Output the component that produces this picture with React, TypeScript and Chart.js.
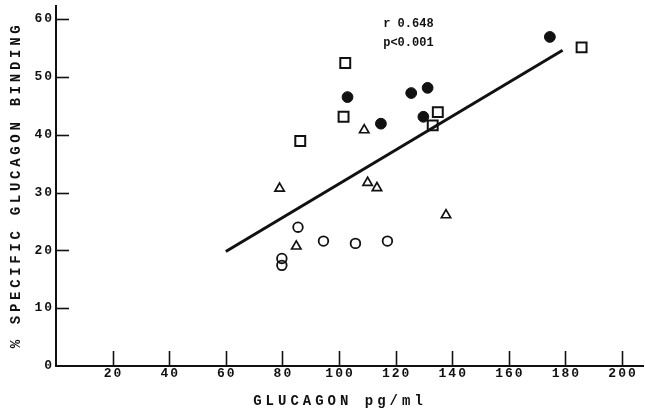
import React, { useEffect, useRef } from "react";
import { Chart, registerables } from "chart.js";

Chart.register(...registerables);

// ---- data ----
const X_TICKS = [20, 40, 60, 80, 100, 120, 140, 160, 180, 200];
const Y_TICKS = [0, 10, 20, 30, 40, 50, 60];

const openCircleX = [85.5, 94.5, 105.8, 117.1, 79.8, 79.8];
const openCircleY = [24.0, 21.6, 21.2, 21.6, 18.6, 17.4];

const filledCircleX = [103.0, 125.5, 131.3, 114.8, 129.8, 174.5];
const filledCircleY = [46.5, 47.2, 48.1, 41.9, 43.1, 56.9];

const squareX = [102.2, 101.6, 134.9, 133.1, 86.3, 185.7];
const squareY = [52.4, 43.1, 43.9, 41.6, 38.9, 55.1];

const triangleX = [108.9, 79.0, 110.1, 113.4, 137.8, 84.9];
const triangleY = [40.8, 30.7, 31.7, 30.8, 26.1, 20.7];

const fitX = [60, 179];
const fitY = [19.8, 54.6];

const X_TITLE = "GLUCAGON pg/ml";
const Y_TITLE = "% SPECIFIC GLUCAGON BINDING";
const STAT_LINES = ["r 0.648", "p<0.001"];

const pts = (xs: number[], ys: number[]) => xs.map((x, i) => ({ x, y: ys[i] }));

const FONT = "'Liberation Mono', 'DejaVu Sans Mono', monospace";

const decorPlugin = {
  id: "decor",
  afterDraw(chart: any) {
    const { ctx, chartArea, scales } = chart;
    const xs = scales.x;
    const ys = scales.y;
    ctx.save();
    ctx.strokeStyle = "#111";
    ctx.fillStyle = "#111";
    ctx.lineWidth = 1.6;
    // inward tick marks + labels on x axis
    ctx.font = `bold 13px ${FONT}`;
    ctx.letterSpacing = "2px";
    ctx.textAlign = "center";
    ctx.textBaseline = "middle";
    xs.ticks.forEach((t: any) => {
      const p = xs.getPixelForValue(t.value);
      const px = Math.round(p) + 0.5;
      ctx.beginPath();
      ctx.moveTo(px, chartArea.bottom);
      ctx.lineTo(px, chartArea.bottom - 15);
      ctx.stroke();
      ctx.fillText(String(t.value), p + 1, chartArea.bottom + 7.5);
    });
    // inward tick marks + labels on y axis
    ctx.textAlign = "right";
    ys.ticks.forEach((t: any) => {
      const p = ys.getPixelForValue(t.value);
      if (t.value !== 0) {
        const py = Math.round(p) + 0.5;
        ctx.beginPath();
        ctx.moveTo(chartArea.left, py);
        ctx.lineTo(chartArea.left + 13, py);
        ctx.stroke();
      }
      ctx.fillText(String(t.value), chartArea.left - 2, p);
    });
    // axis titles
    ctx.font = `bold 14px ${FONT}`;
    ctx.letterSpacing = "4px";
    ctx.textAlign = "center";
    ctx.fillText(X_TITLE, 340, 401);
    ctx.save();
    ctx.translate(16, 185);
    ctx.rotate(-Math.PI / 2);
    ctx.letterSpacing = "3.7px";
    ctx.fillText(Y_TITLE, 0, 0);
    ctx.restore();
    // statistics
    ctx.font = `bold 12px ${FONT}`;
    ctx.letterSpacing = "0px";
    ctx.textAlign = "left";
    ctx.fillText(STAT_LINES[0], xs.getPixelForValue(115.6), ys.getPixelForValue(59.1));
    ctx.fillText(STAT_LINES[1], xs.getPixelForValue(115.6), ys.getPixelForValue(55.8));
    ctx.restore();
  },
};

export default function App() {
  const ref = useRef<HTMLCanvasElement | null>(null);
  useEffect(() => {
    if (!ref.current) return;
    const ink = "#111";
    const chart = new Chart(ref.current, {
      type: "scatter",
      data: {
        datasets: [
          {
            type: "line",
            data: pts(fitX, fitY),
            borderColor: ink,
            borderWidth: 3,
            pointRadius: 0,
            showLine: true,
            fill: false,
          } as any,
          {
            data: pts(openCircleX, openCircleY),
            pointStyle: "circle",
            pointRadius: 4.8,
            borderColor: ink,
            borderWidth: 1.8,
            backgroundColor: "rgba(0,0,0,0)",
          },
          {
            data: pts(filledCircleX, filledCircleY),
            pointStyle: "circle",
            pointRadius: 5.4,
            borderColor: ink,
            borderWidth: 1,
            backgroundColor: ink,
          },
          {
            data: pts(squareX, squareY),
            pointStyle: "rect",
            pointRadius: 7,
            borderColor: ink,
            borderWidth: 2,
            backgroundColor: "#fff",
          },
          {
            data: pts(triangleX, triangleY),
            pointStyle: "triangle",
            pointRadius: 5.4,
            borderColor: ink,
            borderWidth: 1.7,
            backgroundColor: "#fff",
          },
        ],
      },
      options: {
        animation: false,
        responsive: false,
        devicePixelRatio: 1,
        layout: { autoPadding: false, padding: { top: 6, right: 2, left: 0, bottom: 0 } },
        plugins: { legend: { display: false }, tooltip: { enabled: false } },
        scales: {
          x: {
            type: "linear",
            min: 0,
            max: 207.4,
            afterBuildTicks: (s: any) => {
              s.ticks = X_TICKS.map((v) => ({ value: v }));
            },
            afterFit: (s: any) => {
              s.height = 48;
            },
            grid: { display: false, drawTicks: false },
            border: { display: true, color: ink, width: 2 },
            ticks: { display: false },
          },
          y: {
            type: "linear",
            min: 0,
            max: 62.25,
            afterBuildTicks: (s: any) => {
              s.ticks = Y_TICKS.map((v) => ({ value: v }));
            },
            afterFit: (s: any) => {
              s.width = 56;
            },
            grid: { display: false, drawTicks: false },
            border: { display: true, color: ink, width: 2 },
            ticks: { display: false },
          },
        },
      },
      plugins: [decorPlugin],
    });
    return () => chart.destroy();
  }, []);
  return (
    <div style={{ position: "fixed", left: 0, top: 0, width: 645, height: 414, background: "#fff" }}>
      <canvas ref={ref} width={645} height={414} />
    </div>
  );
}
